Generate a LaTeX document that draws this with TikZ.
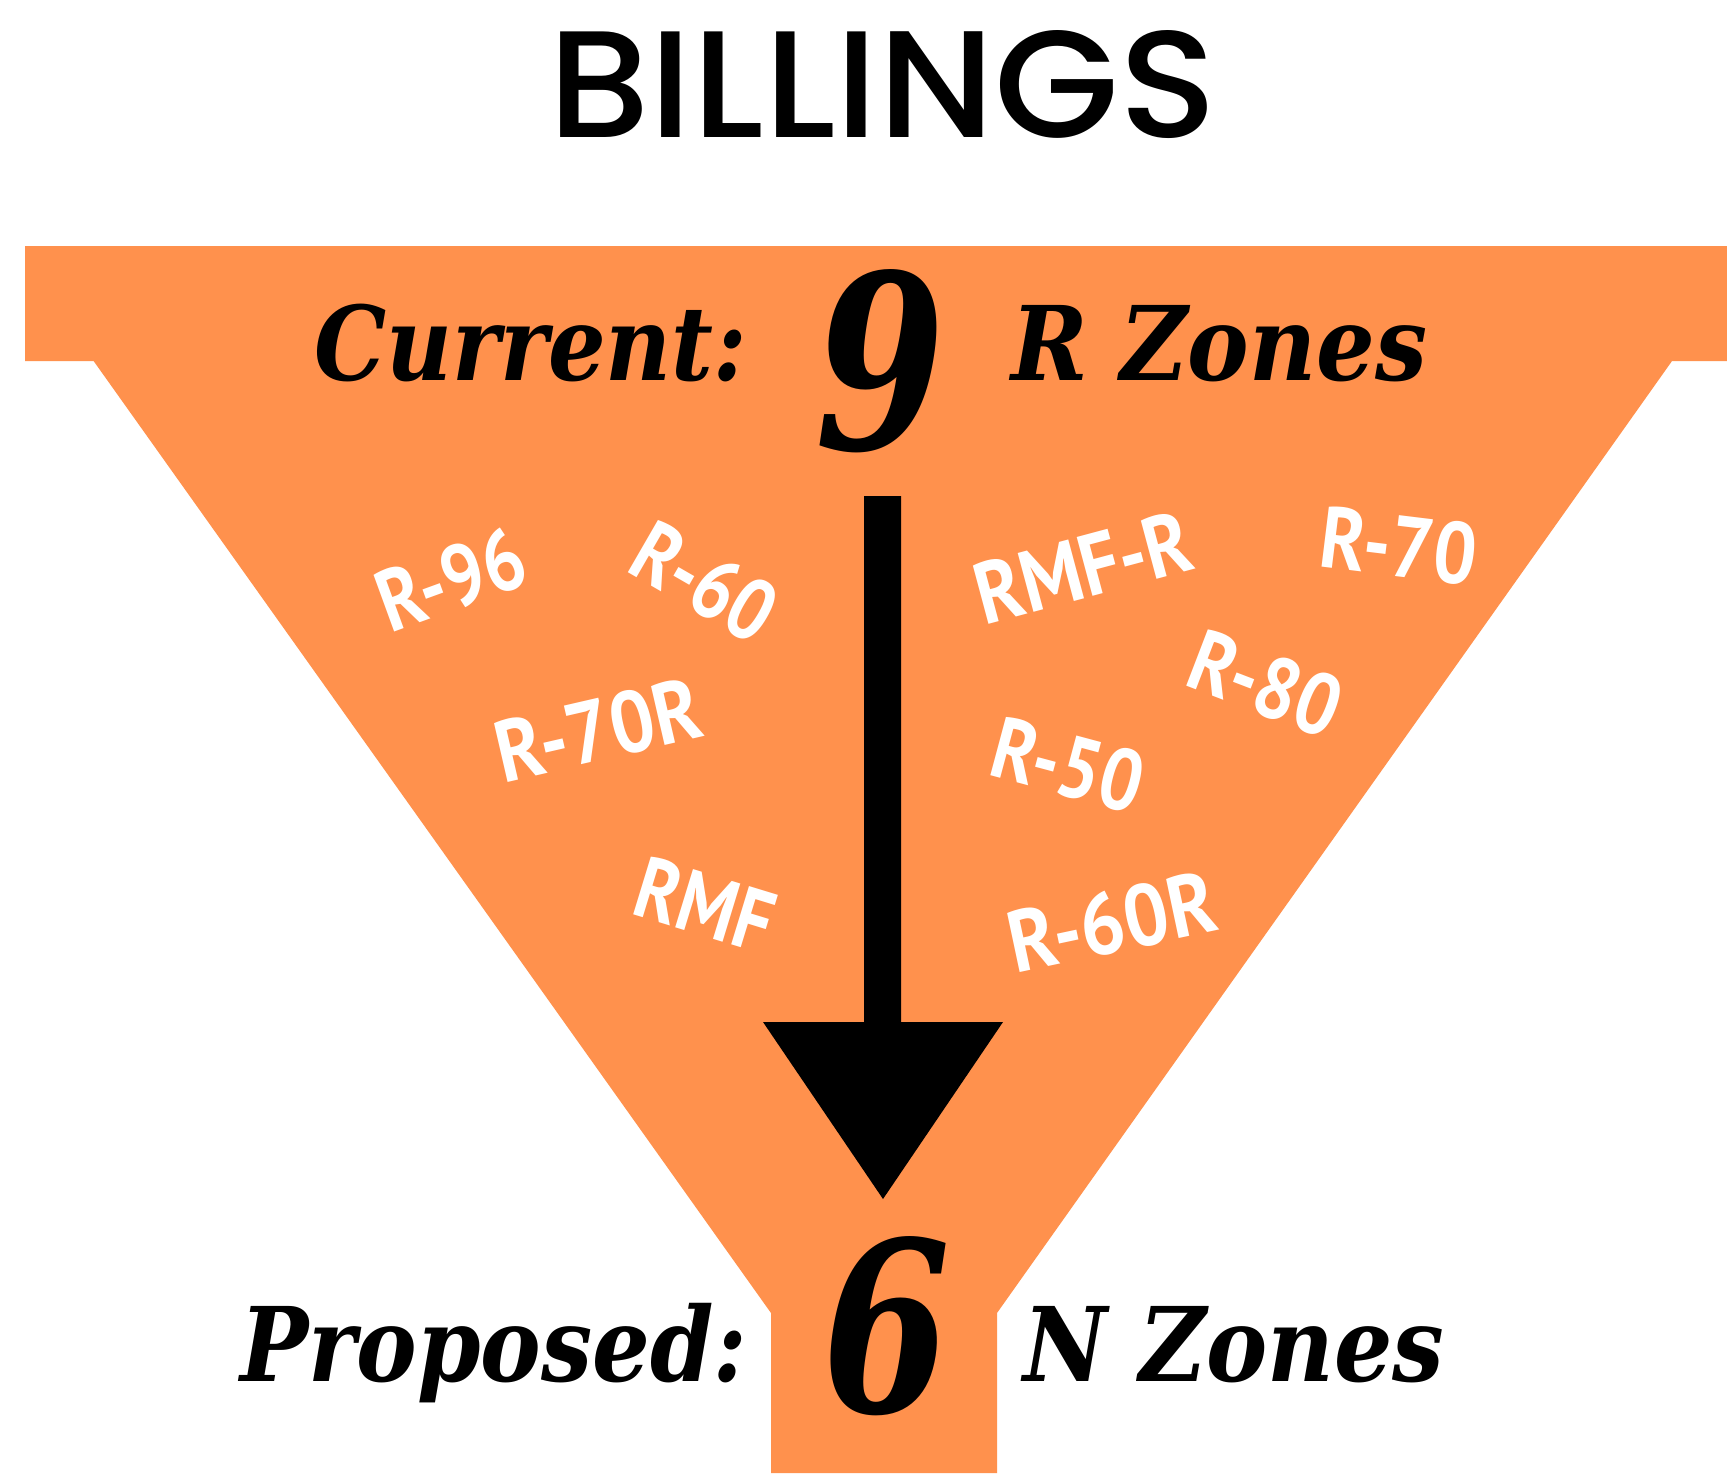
\documentclass[tikz,border=0pt]{standalone}
\usepackage{fontspec}
\usepackage{graphicx}
\setmainfont{DejaVu Serif}
\newfontfamily\titlefont{Poppins}[UprightFont={* Medium}]
\newfontfamily\slabfont{DejaVu Serif}
\newfontfamily\labelfont{PT Sans}
\definecolor{funnel}{HTML}{FF914D}
\begin{document}
\begin{tikzpicture}[x=1pt,y=-1pt,
  zone/.style={font=\labelfont\bfseries\fontsize{87}{87}\selectfont, text=white, inner sep=0pt},
  big/.style={font=\slabfont\bfseries\itshape\fontsize{103}{103}\selectfont, inner sep=0pt, anchor=base west},
  digit/.style={font=\slabfont\bfseries\itshape\fontsize{150}{150}\selectfont, inner sep=0pt, anchor=north west}]
\useasboundingbox (0,0) rectangle (1727,1473);
\fill[white] (0,0) rectangle (1727,1473);
% funnel shape
\fill[funnel] (25,246) -- (1727,246) -- (1727,361) -- (1672,361) -- (997,1313) -- (997,1473)
  -- (771,1473) -- (771,1313) -- (93.6,361) -- (25,361) -- cycle;
% arrow
\fill[black] (864,496) -- (901,496) -- (901,1022) -- (1003,1022) -- (883,1199) -- (763,1022) -- (864,1022) -- cycle;
% title
\node[anchor=base west, inner sep=0pt, font=\titlefont\fontsize{150}{150}\selectfont] (title) at (548,137) {\resizebox{669pt}{107pt}{BILLINGS}};
% main texts
\node[big] (cur) at (314,380) {\resizebox{433pt}{\height}{Current:}};
\node[big] (rz) at (1011,380) {\resizebox{416pt}{\height}{R Zones}};
\node[big] (prop) at (240,1381) {\resizebox{507pt}{\height}{Proposed:}};
\node[big] (nz) at (1023,1381) {\resizebox{421pt}{\height}{N Zones}};
\node[digit] (nine) at (815,269) {\resizebox{130pt}{180pt}{9}};
\node[digit] (six) at (822,1236) {\resizebox{128pt}{176pt}{6}};
% zone labels
\node[zone, rotate=20] (r96) at (451,579) {\resizebox{151pt}{\height}{R-96}};
\node[zone, rotate=-30] (r60) at (705,582) {\resizebox{150pt}{\height}{R-60}};
\node[zone, rotate=13] (r70r) at (598,730) {\resizebox{208pt}{\height}{R-70R}};
\node[zone, rotate=-17] (rmf) at (705,904) {\resizebox{139pt}{\height}{RMF}};
\node[zone, rotate=12] (r60r) at (1112,922) {\resizebox{210pt}{\height}{R-60R}};
\node[zone, rotate=15] (rmfr) at (1083,567) {\resizebox{221pt}{\height}{RMF-R}};
\node[zone, rotate=-7] (r70) at (1399,546) {\resizebox{156pt}{\height}{R-70}};
\node[zone, rotate=-21] (r80) at (1266,684) {\resizebox{155pt}{\height}{R-80}};
\node[zone, rotate=-15] (r50) at (1068,765) {\resizebox{153pt}{\height}{R-50}};
\end{tikzpicture}
\end{document}
